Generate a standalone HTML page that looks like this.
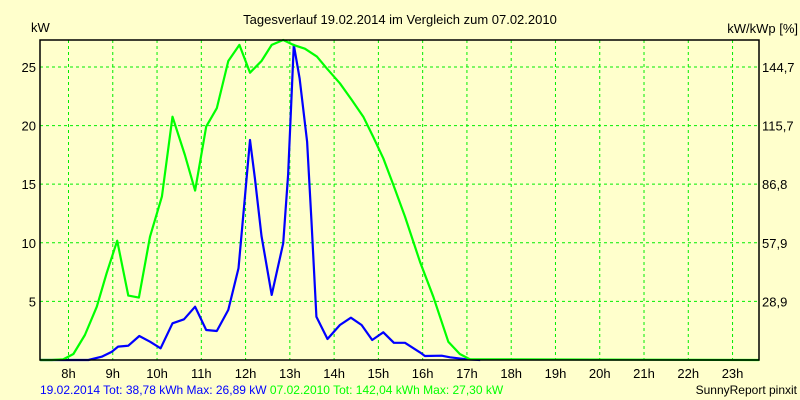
<!DOCTYPE html>
<html><head><meta charset="utf-8"><style>
html,body{margin:0;padding:0;background:#FFFFCC;}
svg{display:block;font-family:"Liberation Sans",Arial,sans-serif;}
</style></head><body>
<svg id="chart" width="800" height="400" viewBox="0 0 800 400" xmlns="http://www.w3.org/2000/svg">
<rect x="0" y="0" width="800" height="400" fill="#FFFFCC"/>
<text x="400" y="24" text-anchor="middle" font-size="13" fill="#000">Tagesverlauf 19.02.2014 im Vergleich zum 07.02.2010</text>
<text x="31" y="32" font-size="13" fill="#000">kW</text>
<text x="798" y="33" text-anchor="end" font-size="13" fill="#000">kW/kWp [%]</text>
<g id="grid"></g>
<g id="series"></g>
<g id="frame"></g>
<g id="labels"></g>
<text x="40" y="394" font-size="12"><tspan fill="#0000ff">19.02.2014 Tot: 38,78 kWh Max: 26,89 kW </tspan><tspan fill="#00ff00">07.02.2010 Tot: 142,04 kWh Max: 27,30 kW</tspan></text>
<text x="797" y="394" text-anchor="end" font-size="12" fill="#000">SunnyReport pinxit</text>
</svg>
<script>
const hourTicks = [8,9,10,11,12,13,14,15,16,17,18,19,20,21,22,23];
const leftTicks = [5,10,15,20,25];
const rightTickLabels = ["28,9","57,9","86,8","115,7","144,7"];
const greenTimes = [7.36,7.62,7.88,8.11,8.37,8.64,8.86,9.10,9.35,9.59,9.84,10.11,10.35,10.63,10.86,11.11,11.35,11.61,11.86,12.10,12.36,12.59,12.85,13.08,13.34,13.61,13.83,14.13,14.40,14.66,14.88,15.11,15.34,15.60,15.94,16.24,16.58,16.84,17.07,23.6];
const greenValues = [0,0,0.05,0.51,2.13,4.55,7.40,10.18,5.49,5.32,10.52,13.94,20.76,17.49,14.45,19.91,21.48,25.51,26.88,24.51,25.51,26.88,27.30,26.88,26.56,25.88,24.89,23.61,22.18,20.76,19.06,17.21,14.93,12.23,8.38,5.40,1.56,0.51,0.06,0];
const blueTimes = [7.36,8.45,8.75,8.98,9.12,9.35,9.60,9.84,10.08,10.35,10.61,10.86,11.11,11.35,11.61,11.84,11.99,12.10,12.21,12.36,12.59,12.85,12.96,13.09,13.22,13.39,13.49,13.60,13.85,14.13,14.38,14.62,14.86,15.11,15.35,15.60,15.94,16.05,16.43,16.62,16.99,17.3];
const blueValues = [0,0,0.28,0.71,1.14,1.22,2.05,1.56,1.00,3.13,3.47,4.55,2.56,2.47,4.27,7.82,14.08,18.77,15.50,10.58,5.55,9.96,15.78,26.89,24.03,18.63,11.80,3.69,1.79,2.99,3.61,2.99,1.71,2.36,1.47,1.47,0.65,0.34,0.37,0.23,0.06,0];

const NS = "http://www.w3.org/2000/svg";
const L = 40, R = 759, T = 40, B = 360;
const xMin = 8 - 28.5/44.27, pxPerHour = 44.27;
const yMax = 27.3;
function xs(h){ return 68.5 + (h - 8) * pxPerHour; }
function ys(v){ return B - v * (B - T) / yMax; }
function mk(tag, attrs){ const e = document.createElementNS(NS, tag); for (const k in attrs) e.setAttribute(k, attrs[k]); return e; }

const grid = document.getElementById('grid');
hourTicks.forEach(h => {
  const ln = mk('line', {x1: xs(h), x2: xs(h), y1: T, y2: B, stroke: '#00ee00', 'stroke-width': 1, 'stroke-dasharray': '3,3'});
  
  
  grid.appendChild(ln);
});
leftTicks.forEach(v => {
  const ln = mk('line', {x1: L, x2: R, y1: ys(v), y2: ys(v), stroke: '#00ee00', 'stroke-width': 1, 'stroke-dasharray': '3,3'});
  
  
  grid.appendChild(ln);
});

const series = document.getElementById('series');
function pathFor(ts, vs){ return ts.map((t, i) => (i ? 'L' : 'M') + xs(t).toFixed(1) + ',' + ys(vs[i]).toFixed(1)).join(' '); }
const blue = mk('path', {d: pathFor(blueTimes, blueValues), fill: 'none', stroke: '#0000ff', 'stroke-width': 2.2, 'stroke-linejoin': 'round'});


series.appendChild(blue);
const green = mk('path', {d: pathFor(greenTimes, greenValues), fill: 'none', stroke: '#00ff00', 'stroke-width': 2.2, 'stroke-linejoin': 'round'});


series.appendChild(green);

const frame = document.getElementById('frame');
const fr = mk('rect', {x: L, y: T, width: R - L, height: B - T, fill: 'none', stroke: '#000', 'stroke-width': 1.5});


frame.appendChild(fr);

const labels = document.getElementById('labels');
hourTicks.forEach(h => {
  const t = mk('text', {x: xs(h), y: 378, 'text-anchor': 'middle', 'font-size': 13, fill: '#000'});
  t.textContent = h + 'h';
  
  
  labels.appendChild(t);
});
leftTicks.forEach((v, i) => {
  const t = mk('text', {x: 36, y: ys(v) + 5, 'text-anchor': 'end', 'font-size': 13, fill: '#000'});
  t.textContent = v;
  
  
  labels.appendChild(t);
  const r = mk('text', {x: 762, y: ys(v) + 5, 'font-size': 13, fill: '#000'});
  r.textContent = rightTickLabels[i];
  
  
  labels.appendChild(r);
});
</script>
</body></html>
